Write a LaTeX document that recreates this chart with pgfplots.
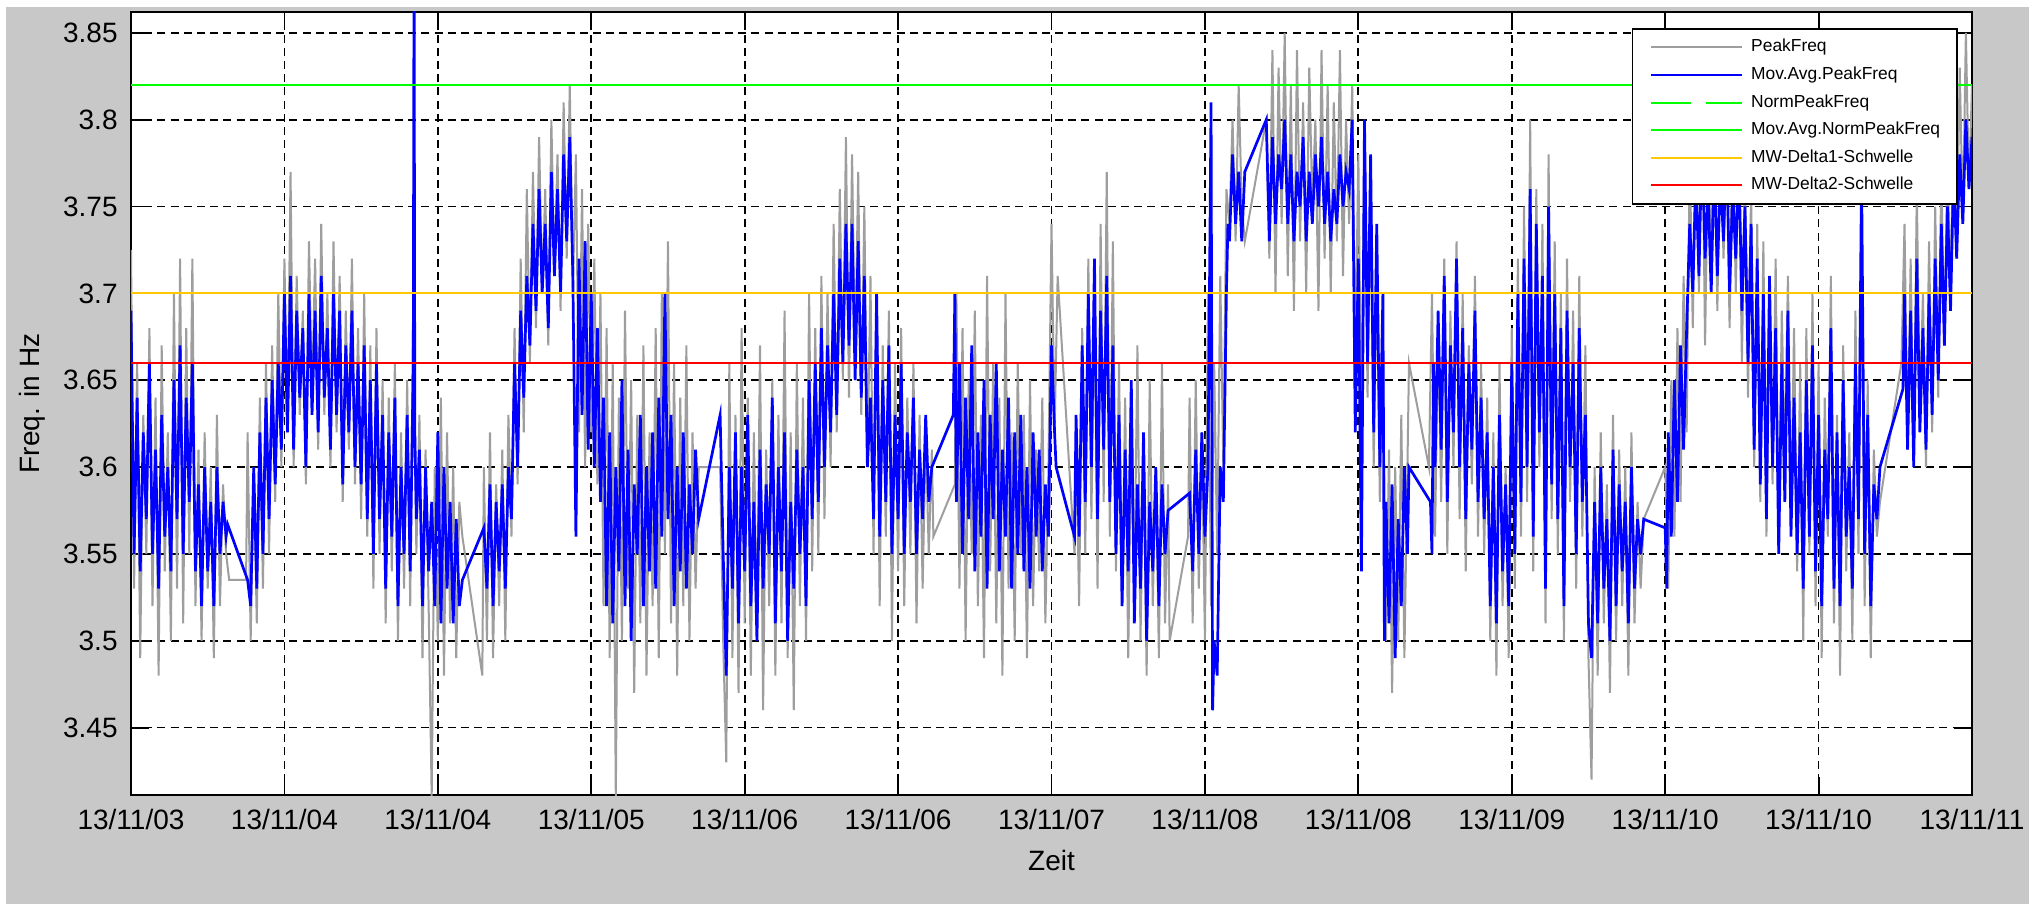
\documentclass[border=0pt]{standalone}
\usepackage{pgfplots}
\pgfplotsset{compat=1.18}
\usepackage{fontspec}
\setmainfont{Liberation Sans}
\definecolor{bggray}{RGB}{200,200,200}
\definecolor{pfgray}{RGB}{158,158,158}
\definecolor{mwyellow}{RGB}{255,200,0}
\definecolor{mwgreen}{RGB}{0,255,0}
\definecolor{mwblue}{RGB}{0,0,255}
\definecolor{mwred}{RGB}{255,0,0}
\begin{document}
\begin{tikzpicture}
\path[use as bounding box, fill=white] (-65.5pt,-54.5pt) rectangle (956.5pt,397.5pt);
\fill[bggray] (-62.5pt,-54.5pt) rectangle (949pt,394pt);
\begin{axis}[
  at={(0pt,0pt)}, anchor=south west,
  scale only axis, width=920.5pt, height=391.5pt,
  xmin=0, xmax=12, ymin=3.4112, ymax=3.862,
  xtick={0,1,2,3,4,5,6,7,8,9,10,11,12},
  xticklabels={13/11/03,13/11/04,13/11/04,13/11/05,13/11/06,13/11/06,13/11/07,13/11/08,13/11/08,13/11/09,13/11/10,13/11/10,13/11/11},
  ytick={3.45,3.5,3.55,3.6,3.65,3.7,3.75,3.8,3.85},
  yticklabels={3.45,3.5,3.55,3.6,3.65,3.7,3.75,3.8,3.85},
  tick align=inside, xtick pos=both, ytick pos=both,
  major tick length=9pt,
  every tick/.style={black, line width=0.9pt},
  axis line style={black, line width=0.9pt},
  grid=major,
  major grid style={black, line width=0.85pt, dash pattern=on 4pt off 2.6pt},
  axis background/.style={fill=white},
  /pgf/number format/assume math mode=true,
  ticklabel style={font=\fontsize{14}{16}\selectfont},
  xticklabel style={anchor=north, inner sep=0pt, yshift=-7pt},
  yticklabel style={anchor=east, inner sep=0pt, xshift=-6.5pt},
  xlabel={Zeit}, ylabel={Freq. in Hz},
  label style={font=\fontsize{14}{16}\selectfont},
  xlabel style={at={(axis description cs:0.5,-0.0835)}, anchor=center},
  ylabel style={at={(axis description cs:-0.0534,0.5)}, anchor=center},
  legend cell align=left,
  legend image code/.code={\draw[#1] (0pt,0pt) -- (45.5pt,0pt);},
  legend style={at={(rel axis cs:1,1)}, anchor=north east, xshift=-7pt, yshift=-8pt,
    draw=black, line width=0.9pt, fill=white, inner xsep=8.5pt, inner ysep=5pt,
    font=\fontsize{8.7}{10}\selectfont, row sep=5.3pt,
    nodes={inner sep=0pt, text height=6.5pt, text depth=2pt},
    /tikz/every odd column/.append style={column sep=4pt}},
  no markers,
]
% PeakFreq
\addplot[pfgray, line width=1.0pt] coordinates {
(0.00,3.725)(0.02,3.53)(0.04,3.66)(0.06,3.49)(0.08,3.63)(0.10,3.55)(0.12,3.68)(0.14,3.52)(0.16,3.64)(0.18,3.48)
(0.20,3.67)(0.22,3.54)(0.24,3.62)(0.26,3.50)(0.28,3.70)(0.30,3.53)(0.32,3.72)(0.34,3.51)(0.36,3.68)(0.38,3.55)
(0.40,3.72)(0.42,3.52)(0.44,3.61)(0.46,3.50)(0.48,3.62)(0.50,3.53)(0.52,3.60)(0.54,3.49)(0.56,3.63)(0.58,3.52)
(0.60,3.59)(0.62,3.55)(0.64,3.535)(0.75,3.535)(0.76,3.62)(0.78,3.50)(0.80,3.60)(0.82,3.51)(0.84,3.64)(0.86,3.53)
(0.88,3.66)(0.90,3.55)(0.92,3.67)(0.94,3.58)(0.96,3.70)(0.98,3.60)(1.00,3.72)(1.02,3.62)(1.04,3.77)(1.06,3.60)
(1.08,3.71)(1.10,3.63)(1.12,3.69)(1.14,3.59)(1.16,3.73)(1.18,3.64)(1.20,3.72)(1.22,3.61)(1.24,3.74)(1.26,3.63)
(1.28,3.70)(1.30,3.60)(1.32,3.73)(1.34,3.62)(1.36,3.71)(1.38,3.58)(1.40,3.69)(1.42,3.61)(1.44,3.72)(1.46,3.59)
(1.48,3.68)(1.50,3.57)(1.52,3.70)(1.54,3.56)(1.56,3.67)(1.58,3.53)(1.60,3.68)(1.62,3.55)(1.64,3.65)(1.66,3.51)
(1.68,3.64)(1.70,3.54)(1.72,3.66)(1.74,3.50)(1.76,3.62)(1.78,3.53)(1.80,3.65)(1.82,3.52)(1.84,3.70)(1.86,3.55)
(1.88,3.63)(1.90,3.49)(1.92,3.61)(1.94,3.52)(1.96,3.41)(1.98,3.60)(2.00,3.50)(2.02,3.64)(2.04,3.48)(2.06,3.62)
(2.08,3.51)(2.10,3.60)(2.12,3.49)(2.14,3.58)(2.16,3.56)(2.29,3.48)(2.30,3.60)(2.32,3.50)(2.34,3.62)(2.36,3.49)
(2.38,3.59)(2.40,3.52)(2.42,3.61)(2.44,3.50)(2.46,3.63)(2.48,3.56)(2.50,3.68)(2.52,3.59)(2.54,3.72)(2.56,3.62)
(2.58,3.76)(2.60,3.66)(2.62,3.77)(2.64,3.68)(2.66,3.79)(2.68,3.70)(2.70,3.76)(2.72,3.67)(2.74,3.80)(2.76,3.71)
(2.78,3.78)(2.80,3.69)(2.82,3.81)(2.84,3.72)(2.86,3.82)(2.88,3.70)(2.90,3.78)(2.92,3.62)(2.94,3.76)(2.96,3.60)
(2.98,3.74)(3.00,3.62)(3.02,3.72)(3.04,3.59)(3.06,3.70)(3.08,3.52)(3.10,3.68)(3.12,3.49)(3.14,3.66)(3.16,3.41)
(3.18,3.64)(3.20,3.50)(3.22,3.69)(3.24,3.53)(3.26,3.65)(3.28,3.47)(3.30,3.63)(3.32,3.51)(3.34,3.67)(3.36,3.48)
(3.38,3.62)(3.40,3.52)(3.42,3.68)(3.44,3.49)(3.46,3.70)(3.48,3.55)(3.50,3.73)(3.52,3.51)(3.54,3.66)(3.56,3.48)
(3.58,3.64)(3.60,3.52)(3.62,3.67)(3.64,3.50)(3.66,3.62)(3.68,3.53)(3.70,3.60)(3.84,3.60)(3.86,3.50)(3.88,3.43)
(3.90,3.66)(3.92,3.49)(3.94,3.63)(3.96,3.47)(3.98,3.68)(4.00,3.51)(4.02,3.64)(4.04,3.48)(4.06,3.62)(4.08,3.50)
(4.10,3.67)(4.12,3.46)(4.14,3.61)(4.16,3.52)(4.18,3.65)(4.20,3.48)(4.22,3.63)(4.24,3.51)(4.26,3.69)(4.28,3.49)
(4.30,3.62)(4.32,3.46)(4.34,3.66)(4.36,3.52)(4.38,3.64)(4.40,3.50)(4.42,3.70)(4.44,3.54)(4.46,3.68)(4.48,3.55)
(4.50,3.71)(4.52,3.57)(4.54,3.70)(4.56,3.60)(4.58,3.74)(4.60,3.62)(4.62,3.76)(4.64,3.65)(4.66,3.79)(4.68,3.64)
(4.70,3.78)(4.72,3.66)(4.74,3.77)(4.76,3.63)(4.78,3.75)(4.80,3.60)(4.82,3.71)(4.84,3.55)(4.86,3.70)(4.88,3.52)
(4.90,3.67)(4.92,3.56)(4.94,3.69)(4.96,3.50)(4.98,3.66)(5.00,3.54)(5.02,3.68)(5.04,3.52)(5.06,3.64)(5.08,3.55)
(5.10,3.66)(5.12,3.51)(5.14,3.63)(5.16,3.53)(5.18,3.62)(5.20,3.55)(5.22,3.61)(5.23,3.56)(5.37,3.59)(5.38,3.70)
(5.40,3.53)(5.42,3.68)(5.44,3.50)(5.46,3.65)(5.48,3.55)(5.50,3.69)(5.52,3.52)(5.54,3.63)(5.56,3.49)(5.58,3.71)
(5.60,3.54)(5.62,3.66)(5.64,3.51)(5.66,3.64)(5.68,3.48)(5.70,3.70)(5.72,3.53)(5.74,3.62)(5.76,3.50)(5.78,3.66)
(5.80,3.55)(5.82,3.63)(5.84,3.49)(5.86,3.65)(5.88,3.52)(5.90,3.61)(5.92,3.54)(5.94,3.64)(5.96,3.51)(5.98,3.60)
(6.00,3.74)(6.02,3.62)(6.04,3.71)(6.15,3.55)(6.16,3.62)(6.18,3.52)(6.20,3.68)(6.22,3.55)(6.24,3.72)(6.26,3.57)
(6.28,3.70)(6.30,3.53)(6.32,3.74)(6.34,3.58)(6.36,3.77)(6.38,3.56)(6.40,3.73)(6.42,3.54)(6.44,3.66)(6.46,3.52)
(6.48,3.64)(6.50,3.49)(6.52,3.62)(6.54,3.53)(6.56,3.67)(6.58,3.50)(6.60,3.61)(6.62,3.48)(6.64,3.65)(6.66,3.52)
(6.68,3.60)(6.70,3.49)(6.72,3.66)(6.74,3.51)(6.76,3.59)(6.77,3.50)(6.89,3.56)(6.90,3.64)(6.92,3.51)(6.94,3.65)
(6.96,3.53)(6.98,3.62)(7.00,3.50)(7.02,3.70)(7.04,3.52)(7.06,3.66)(7.08,3.55)(7.10,3.71)(7.12,3.60)(7.14,3.76)
(7.16,3.74)(7.18,3.80)(7.20,3.73)(7.22,3.82)(7.24,3.75)(7.26,3.73)(7.40,3.80)(7.42,3.72)(7.44,3.84)(7.46,3.70)
(7.48,3.83)(7.50,3.74)(7.52,3.85)(7.54,3.71)(7.56,3.82)(7.58,3.69)(7.60,3.84)(7.62,3.73)(7.64,3.81)(7.66,3.70)
(7.68,3.83)(7.70,3.75)(7.72,3.80)(7.74,3.69)(7.76,3.84)(7.78,3.72)(7.80,3.82)(7.82,3.70)(7.84,3.81)(7.86,3.73)
(7.88,3.84)(7.90,3.71)(7.92,3.80)(7.94,3.74)(7.96,3.82)(7.98,3.66)(8.00,3.78)(8.02,3.62)(8.04,3.80)(8.06,3.64)
(8.08,3.76)(8.10,3.60)(8.12,3.72)(8.14,3.58)(8.16,3.67)(8.18,3.50)(8.20,3.61)(8.22,3.47)(8.24,3.60)(8.26,3.50)
(8.28,3.63)(8.30,3.49)(8.32,3.60)(8.33,3.66)(8.46,3.60)(8.48,3.70)(8.50,3.56)(8.52,3.68)(8.54,3.58)(8.56,3.72)
(8.58,3.55)(8.60,3.69)(8.62,3.60)(8.64,3.73)(8.66,3.57)(8.68,3.70)(8.70,3.54)(8.72,3.67)(8.74,3.59)(8.76,3.71)
(8.78,3.56)(8.80,3.66)(8.82,3.55)(8.84,3.64)(8.86,3.50)(8.88,3.62)(8.90,3.48)(8.92,3.66)(8.94,3.52)(8.96,3.60)
(8.98,3.49)(9.00,3.68)(9.02,3.53)(9.04,3.72)(9.06,3.56)(9.08,3.75)(9.10,3.58)(9.12,3.80)(9.14,3.54)(9.16,3.76)
(9.18,3.60)(9.20,3.74)(9.22,3.51)(9.24,3.78)(9.26,3.57)(9.28,3.73)(9.30,3.55)(9.32,3.70)(9.34,3.50)(9.36,3.72)
(9.38,3.58)(9.40,3.69)(9.42,3.53)(9.44,3.71)(9.46,3.56)(9.48,3.67)(9.50,3.49)(9.52,3.42)(9.54,3.60)(9.56,3.48)
(9.58,3.62)(9.60,3.51)(9.62,3.59)(9.64,3.47)(9.66,3.63)(9.68,3.50)(9.70,3.61)(9.72,3.52)(9.74,3.60)(9.76,3.48)
(9.78,3.62)(9.80,3.51)(9.82,3.58)(9.84,3.53)(9.86,3.57)(10.00,3.60)(10.02,3.53)(10.04,3.65)(10.06,3.56)(10.08,3.68)
(10.10,3.58)(10.12,3.71)(10.14,3.62)(10.16,3.78)(10.18,3.68)(10.20,3.80)(10.22,3.70)(10.24,3.82)(10.26,3.67)(10.28,3.79)
(10.30,3.71)(10.32,3.81)(10.34,3.69)(10.36,3.80)(10.38,3.72)(10.40,3.78)(10.42,3.68)(10.44,3.81)(10.46,3.70)(10.48,3.79)
(10.50,3.66)(10.52,3.77)(10.54,3.64)(10.56,3.76)(10.58,3.60)(10.60,3.74)(10.62,3.58)(10.64,3.73)(10.66,3.56)(10.68,3.70)
(10.70,3.59)(10.72,3.72)(10.74,3.55)(10.76,3.69)(10.78,3.60)(10.80,3.71)(10.82,3.57)(10.84,3.68)(10.86,3.54)(10.88,3.66)
(10.90,3.50)(10.92,3.68)(10.94,3.55)(10.96,3.70)(10.98,3.52)(11.00,3.66)(11.02,3.49)(11.04,3.64)(11.06,3.56)(11.08,3.71)
(11.10,3.51)(11.12,3.63)(11.14,3.48)(11.16,3.67)(11.18,3.54)(11.20,3.62)(11.22,3.50)(11.24,3.69)(11.26,3.55)(11.28,3.74)
(11.30,3.52)(11.32,3.65)(11.34,3.49)(11.36,3.61)(11.38,3.56)(11.40,3.58)(11.54,3.66)(11.56,3.74)(11.58,3.61)(11.60,3.72)
(11.62,3.60)(11.64,3.76)(11.66,3.63)(11.68,3.70)(11.70,3.60)(11.72,3.73)(11.74,3.62)(11.76,3.75)(11.78,3.64)(11.80,3.77)
(11.82,3.67)(11.84,3.78)(11.86,3.70)(11.88,3.80)(11.90,3.72)(11.92,3.83)(11.94,3.74)(11.96,3.85)(11.98,3.76)(12.00,3.82)
};
\addlegendentry{PeakFreq}
% Mov.Avg.PeakFreq
\addplot[mwblue, line width=1.35pt] coordinates {
(0.00,3.69)(0.02,3.55)(0.04,3.64)(0.06,3.54)(0.08,3.62)(0.10,3.57)(0.12,3.66)(0.14,3.55)(0.16,3.61)(0.18,3.53)
(0.20,3.63)(0.22,3.56)(0.24,3.60)(0.26,3.54)(0.28,3.65)(0.30,3.57)(0.32,3.67)(0.34,3.55)(0.36,3.64)(0.38,3.58)
(0.40,3.66)(0.42,3.54)(0.44,3.59)(0.46,3.52)(0.48,3.60)(0.50,3.54)(0.52,3.58)(0.54,3.52)(0.56,3.60)(0.58,3.55)
(0.60,3.58)(0.62,3.56)(0.63,3.567)(0.76,3.535)(0.78,3.52)(0.80,3.60)(0.82,3.53)(0.84,3.62)(0.86,3.55)(0.88,3.64)
(0.90,3.57)(0.92,3.65)(0.94,3.59)(0.96,3.66)(0.98,3.61)(1.00,3.70)(1.02,3.62)(1.04,3.71)(1.06,3.61)(1.08,3.69)
(1.10,3.64)(1.12,3.68)(1.14,3.60)(1.16,3.70)(1.18,3.63)(1.20,3.69)(1.22,3.62)(1.24,3.71)(1.26,3.64)(1.28,3.68)
(1.30,3.61)(1.32,3.70)(1.34,3.63)(1.36,3.69)(1.38,3.59)(1.40,3.67)(1.42,3.62)(1.44,3.69)(1.46,3.60)(1.48,3.66)
(1.50,3.59)(1.52,3.67)(1.54,3.57)(1.56,3.65)(1.58,3.55)(1.60,3.66)(1.62,3.57)(1.64,3.63)(1.66,3.53)(1.68,3.62)
(1.70,3.56)(1.72,3.64)(1.74,3.52)(1.76,3.60)(1.78,3.55)(1.80,3.63)(1.82,3.54)(1.84,3.66)(1.845,3.90)(1.85,3.62)
(1.86,3.57)(1.88,3.61)(1.90,3.52)(1.92,3.60)(1.94,3.54)(1.96,3.58)(1.98,3.52)(2.00,3.62)(2.02,3.51)(2.04,3.60)
(2.06,3.53)(2.08,3.58)(2.10,3.51)(2.12,3.57)(2.14,3.52)(2.16,3.535)(2.30,3.565)(2.32,3.53)(2.34,3.59)(2.36,3.52)
(2.38,3.58)(2.40,3.54)(2.42,3.59)(2.44,3.53)(2.46,3.60)(2.48,3.57)(2.50,3.66)(2.52,3.60)(2.54,3.69)(2.56,3.64)
(2.58,3.71)(2.60,3.67)(2.62,3.74)(2.64,3.69)(2.66,3.76)(2.68,3.70)(2.70,3.74)(2.72,3.68)(2.74,3.77)(2.76,3.71)
(2.78,3.76)(2.80,3.70)(2.82,3.78)(2.84,3.73)(2.86,3.79)(2.88,3.71)(2.90,3.56)(2.92,3.72)(2.94,3.63)(2.96,3.73)
(2.98,3.61)(3.00,3.70)(3.02,3.60)(3.04,3.68)(3.06,3.58)(3.08,3.64)(3.10,3.52)(3.12,3.62)(3.14,3.51)(3.16,3.60)
(3.18,3.54)(3.20,3.65)(3.22,3.52)(3.24,3.61)(3.26,3.50)(3.28,3.59)(3.30,3.55)(3.32,3.63)(3.34,3.52)(3.36,3.60)
(3.38,3.54)(3.40,3.62)(3.42,3.53)(3.44,3.64)(3.46,3.56)(3.48,3.70)(3.50,3.57)(3.52,3.63)(3.54,3.52)(3.56,3.60)
(3.58,3.54)(3.60,3.62)(3.62,3.53)(3.64,3.59)(3.66,3.55)(3.68,3.61)(3.70,3.57)(3.84,3.63)(3.86,3.55)(3.88,3.48)
(3.90,3.60)(3.92,3.53)(3.94,3.62)(3.96,3.51)(3.98,3.60)(4.00,3.54)(4.02,3.63)(4.04,3.52)(4.06,3.58)(4.08,3.50)
(4.10,3.61)(4.12,3.53)(4.14,3.59)(4.16,3.55)(4.18,3.64)(4.20,3.51)(4.22,3.60)(4.24,3.54)(4.26,3.62)(4.28,3.50)
(4.30,3.58)(4.32,3.53)(4.34,3.61)(4.36,3.55)(4.38,3.60)(4.40,3.52)(4.42,3.65)(4.44,3.57)(4.46,3.66)(4.48,3.58)
(4.50,3.68)(4.52,3.60)(4.54,3.67)(4.56,3.62)(4.58,3.70)(4.60,3.63)(4.62,3.72)(4.64,3.66)(4.66,3.74)(4.68,3.67)
(4.70,3.74)(4.72,3.65)(4.74,3.73)(4.76,3.64)(4.78,3.71)(4.80,3.60)(4.82,3.64)(4.84,3.57)(4.86,3.70)(4.88,3.56)
(4.90,3.65)(4.92,3.58)(4.94,3.67)(4.96,3.55)(4.98,3.63)(5.00,3.57)(5.02,3.66)(5.04,3.55)(5.06,3.62)(5.08,3.58)
(5.10,3.64)(5.12,3.55)(5.14,3.61)(5.16,3.57)(5.18,3.63)(5.20,3.58)(5.22,3.60)(5.36,3.63)(5.37,3.70)(5.38,3.58)
(5.40,3.66)(5.42,3.55)(5.44,3.64)(5.46,3.57)(5.48,3.67)(5.50,3.54)(5.52,3.62)(5.54,3.56)(5.56,3.65)(5.58,3.53)
(5.60,3.63)(5.62,3.57)(5.64,3.66)(5.66,3.54)(5.68,3.61)(5.70,3.56)(5.72,3.64)(5.74,3.53)(5.76,3.62)(5.78,3.55)
(5.80,3.63)(5.82,3.54)(5.84,3.60)(5.86,3.53)(5.88,3.62)(5.90,3.56)(5.92,3.61)(5.94,3.54)(5.96,3.59)(5.98,3.56)
(6.00,3.67)(6.02,3.62)(6.03,3.60)(6.15,3.56)(6.16,3.63)(6.18,3.56)(6.20,3.67)(6.22,3.58)(6.24,3.70)(6.26,3.60)
(6.28,3.72)(6.30,3.57)(6.32,3.69)(6.34,3.61)(6.36,3.71)(6.38,3.58)(6.40,3.67)(6.42,3.55)(6.44,3.63)(6.46,3.52)
(6.48,3.61)(6.50,3.54)(6.52,3.65)(6.54,3.51)(6.56,3.59)(6.58,3.53)(6.60,3.62)(6.62,3.50)(6.64,3.58)(6.66,3.54)
(6.68,3.60)(6.70,3.52)(6.72,3.59)(6.74,3.55)(6.76,3.575)(6.90,3.585)(6.92,3.54)(6.94,3.61)(6.96,3.55)(6.98,3.62)
(7.00,3.56)(7.02,3.60)(7.04,3.81)(7.05,3.46)(7.06,3.50)(7.08,3.48)(7.10,3.60)(7.12,3.58)(7.14,3.70)(7.15,3.74)
(7.16,3.73)(7.18,3.78)(7.20,3.74)(7.22,3.77)(7.24,3.73)(7.26,3.77)(7.40,3.80)(7.42,3.73)(7.44,3.79)(7.46,3.74)
(7.48,3.78)(7.50,3.76)(7.52,3.80)(7.54,3.74)(7.56,3.78)(7.58,3.73)(7.60,3.77)(7.62,3.75)(7.64,3.79)(7.66,3.73)
(7.68,3.77)(7.70,3.74)(7.72,3.78)(7.74,3.75)(7.76,3.79)(7.78,3.74)(7.80,3.77)(7.82,3.73)(7.84,3.76)(7.86,3.74)
(7.88,3.78)(7.90,3.75)(7.92,3.77)(7.94,3.76)(7.96,3.80)(7.98,3.62)(8.00,3.72)(8.02,3.54)(8.04,3.80)(8.06,3.66)
(8.08,3.78)(8.10,3.62)(8.12,3.74)(8.14,3.60)(8.16,3.70)(8.17,3.50)(8.18,3.58)(8.20,3.51)(8.22,3.59)(8.24,3.49)
(8.26,3.57)(8.28,3.52)(8.30,3.60)(8.32,3.55)(8.33,3.60)(8.47,3.58)(8.48,3.55)(8.49,3.66)(8.50,3.60)(8.52,3.69)
(8.54,3.61)(8.56,3.71)(8.58,3.58)(8.60,3.67)(8.62,3.62)(8.64,3.72)(8.66,3.60)(8.68,3.68)(8.70,3.57)(8.72,3.66)
(8.74,3.61)(8.76,3.69)(8.78,3.58)(8.80,3.64)(8.82,3.57)(8.84,3.62)(8.86,3.52)(8.88,3.60)(8.90,3.51)(8.92,3.63)
(8.94,3.54)(8.96,3.59)(8.98,3.52)(9.00,3.66)(9.02,3.55)(9.04,3.70)(9.06,3.58)(9.08,3.72)(9.10,3.60)(9.12,3.76)
(9.14,3.56)(9.16,3.74)(9.18,3.62)(9.20,3.71)(9.22,3.53)(9.24,3.75)(9.26,3.59)(9.28,3.70)(9.30,3.57)(9.32,3.68)
(9.34,3.52)(9.36,3.69)(9.38,3.60)(9.40,3.66)(9.42,3.55)(9.44,3.68)(9.46,3.58)(9.48,3.63)(9.50,3.51)(9.52,3.49)
(9.54,3.58)(9.56,3.51)(9.58,3.60)(9.60,3.53)(9.62,3.57)(9.64,3.50)(9.66,3.61)(9.68,3.52)(9.70,3.59)(9.72,3.54)
(9.74,3.58)(9.76,3.51)(9.78,3.60)(9.80,3.53)(9.82,3.57)(9.84,3.55)(9.86,3.57)(10.00,3.565)(10.01,3.53)(10.02,3.62)
(10.04,3.56)(10.06,3.65)(10.08,3.58)(10.10,3.67)(10.12,3.61)(10.14,3.68)(10.16,3.74)(10.18,3.70)(10.20,3.77)(10.22,3.71)
(10.24,3.79)(10.26,3.72)(10.28,3.76)(10.30,3.70)(10.32,3.78)(10.34,3.71)(10.36,3.77)(10.38,3.73)(10.40,3.79)(10.42,3.70)
(10.44,3.76)(10.46,3.72)(10.48,3.78)(10.50,3.69)(10.52,3.75)(10.54,3.66)(10.56,3.74)(10.58,3.61)(10.60,3.72)(10.62,3.59)
(10.64,3.70)(10.66,3.57)(10.68,3.71)(10.70,3.60)(10.72,3.68)(10.74,3.55)(10.76,3.66)(10.78,3.58)(10.80,3.69)(10.82,3.56)
(10.84,3.64)(10.86,3.55)(10.88,3.62)(10.90,3.53)(10.92,3.65)(10.94,3.56)(10.96,3.67)(10.98,3.54)(11.00,3.63)(11.02,3.52)
(11.04,3.61)(11.06,3.57)(11.08,3.68)(11.10,3.53)(11.12,3.62)(11.14,3.52)(11.16,3.65)(11.18,3.56)(11.20,3.60)(11.22,3.53)
(11.24,3.66)(11.26,3.57)(11.28,3.77)(11.30,3.55)(11.32,3.63)(11.34,3.52)(11.36,3.59)(11.38,3.57)(11.40,3.60)(11.55,3.645)
(11.56,3.70)(11.58,3.61)(11.60,3.69)(11.62,3.60)(11.64,3.72)(11.66,3.62)(11.68,3.68)(11.70,3.61)(11.72,3.70)(11.74,3.63)
(11.76,3.72)(11.78,3.65)(11.80,3.74)(11.82,3.67)(11.84,3.75)(11.86,3.69)(11.88,3.77)(11.90,3.72)(11.92,3.78)(11.94,3.74)
(11.96,3.80)(11.98,3.76)(12.00,3.79)
};
\addlegendentry{Mov.Avg.PeakFreq}
\addlegendimage{mwgreen, line width=1pt, dash pattern=on 20pt off 7.5pt}
\addlegendentry{NormPeakFreq}
\addplot[mwgreen, line width=1pt] coordinates {(0,3.82) (12,3.82)};
\addlegendentry{Mov.Avg.NormPeakFreq}
\addplot[mwyellow, line width=1pt] coordinates {(0,3.70) (12,3.70)};
\addlegendentry{MW-Delta1-Schwelle}
\addplot[mwred, line width=1pt] coordinates {(0,3.66) (12,3.66)};
\addlegendentry{MW-Delta2-Schwelle}
\end{axis}
\end{tikzpicture}
\end{document}
